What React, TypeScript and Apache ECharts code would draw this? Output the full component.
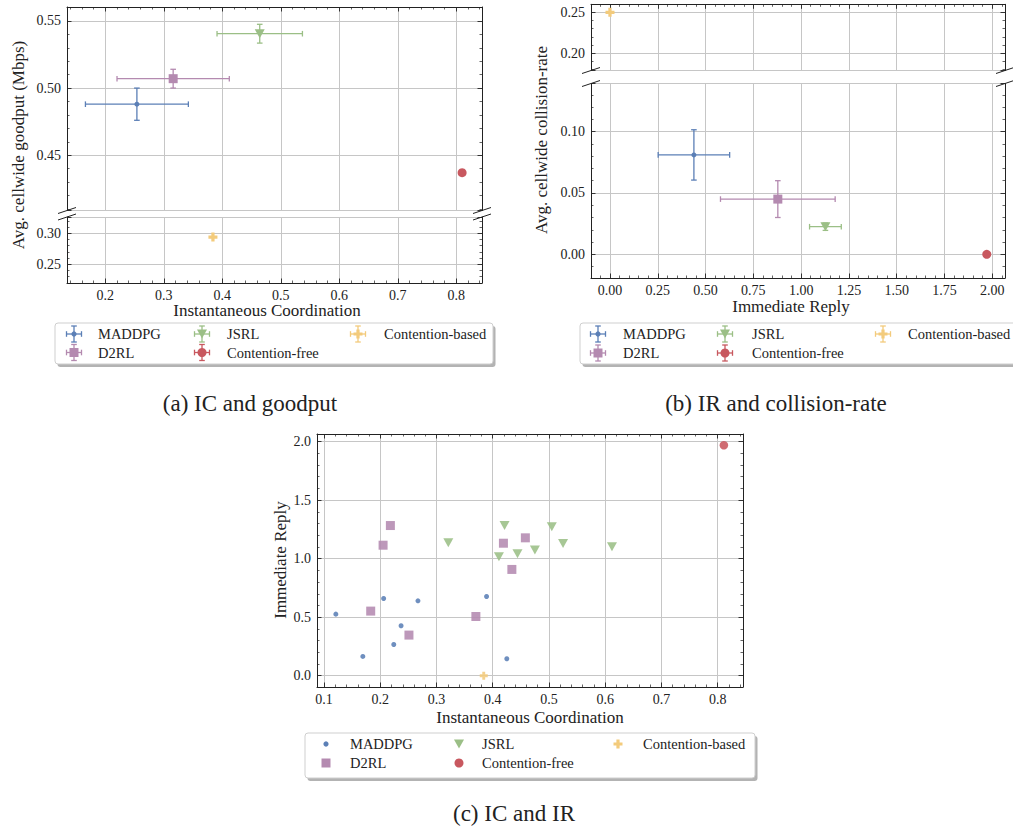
import React, { useEffect, useRef } from 'react';
import * as echarts from 'echarts';

// ---------- data ----------
const methods = ['MADDPG', 'D2RL', 'JSRL', 'Contention-free', 'Contention-based'];
const colors = ['#5b7fb6', '#b48ab0', '#9bbf86', '#c8585f', '#f3cb7c'];

// (a) Instantaneous Coordination vs goodput (mean ± std)
const aIC = [0.254, 0.316, 0.464, 0.810, 0.384];
const aICErr = [0.088, 0.096, 0.073, 0, 0];
const aGoodput = [0.488, 0.507, 0.5405, 0.437, 0.294];
const aGoodputErr = [0.012, 0.007, 0.007, 0, 0];

// (b) Immediate Reply vs collision-rate (mean ± std)
const bIR = [0.439, 0.878, 1.127, 1.971, 0.0];
const bIRErr = [0.187, 0.30, 0.083, 0, 0];
const bCollision = [0.081, 0.045, 0.0225, 0.0, 0.25];
const bCollisionErr = [0.0205, 0.015, 0.003, 0, 0];

// (c) per-run IC vs IR
const cMADDPG_IC = [0.121, 0.169, 0.206, 0.224, 0.237, 0.267, 0.389, 0.425];
const cMADDPG_IR = [0.526, 0.165, 0.660, 0.267, 0.427, 0.640, 0.677, 0.145];
const cD2RL_IC = [0.218, 0.205, 0.183, 0.251, 0.370, 0.419, 0.434, 0.458];
const cD2RL_IR = [1.283, 1.115, 0.552, 0.347, 0.506, 1.132, 0.908, 1.178];
const cJSRL_IC = [0.321, 0.421, 0.411, 0.444, 0.475, 0.505, 0.525, 0.612];
const cJSRL_IR = [1.135, 1.283, 1.016, 1.041, 1.073, 1.272, 1.129, 1.101];
const cFree_IC = [0.811];
const cFree_IR = [1.969];
const cBased_IC = [0.384];
const cBased_IR = [0.0];

const captions = ['(a) IC and goodput', '(b) IR and collision-rate', '(c) IC and IR'];
const xNames = ['Instantaneous Coordination', 'Immediate Reply', 'Instantaneous Coordination'];
const yNames = ['Avg. cellwide goodput (Mbps)', 'Avg. cellwide collision-rate', 'Immediate Reply'];

// ---------- style ----------
const FONT = '"Liberation Serif", "DejaVu Serif", serif';
const INK = '#222222';
const GRID = '#c6c6c6';
const PLUS = 'path://M3.2,0H6.8V3.2H10V6.8H6.8V10H3.2V6.8H0V3.2H3.2Z';

const symA = [
  { symbol: 'circle', size: 5, rotate: 0 },
  { symbol: 'rect', size: 9, rotate: 0 },
  { symbol: 'triangle', size: [10, 9], rotate: 180 },
  { symbol: 'circle', size: 9, rotate: 0 },
  { symbol: PLUS, size: 9, rotate: 0 },
];
const symC = [
  { symbol: 'circle', size: 5, rotate: 0 },
  { symbol: 'rect', size: 9, rotate: 0 },
  { symbol: 'triangle', size: [10, 9], rotate: 180 },
  { symbol: 'circle', size: 8.5, rotate: 0 },
  { symbol: PLUS, size: 8, rotate: 0 },
];

type GridSpec = {
  box: [number, number, number, number];
  x: [number, number, number, number];
  y: [number, number, number, number];
  top: boolean;
  bottom: boolean;
};

const grids: GridSpec[] = [
  { box: [67, 7, 415, 203.5], x: [0.1345, 0.844, 0.1, 1], y: [0.4088, 0.5604, 0.05, 2], top: true, bottom: false },
  { box: [67, 217, 415, 66], x: [0.1345, 0.844, 0.1, 1], y: [0.2198, 0.3263, 0.05, 2], top: false, bottom: true },
  { box: [591, 4.3, 414, 66.2], x: [-0.0993, 2.0664, 0.25, 2], y: [0.179, 0.2598, 0.05, 2], top: true, bottom: false },
  { box: [591, 83.5, 414, 194.5], x: [-0.0993, 2.0664, 0.25, 2], y: [-0.0193, 0.1392, 0.05, 2], top: false, bottom: true },
  { box: [317, 434, 426, 253], x: [0.0875, 0.845, 0.1, 1], y: [-0.0964, 2.065, 0.5, 1], top: true, bottom: true },
];

function onStep(v: number, step: number) {
  const r = v / step;
  return Math.abs(r - Math.round(r)) < 1e-6;
}

function axis(gi: number, pos: string, r: [number, number, number, number], line: boolean, labels: boolean, split: boolean, isX: boolean) {
  const [min, max, step, dec] = r;
  return {
    type: 'value',
    gridIndex: gi,
    position: pos,
    min,
    max,
    minInterval: step,
    maxInterval: step,
    splitNumber: Math.max(1, Math.round((max - min) / step)),
    axisLine: { show: line, onZero: false, lineStyle: { color: INK, width: 1 } },
    axisTick: { show: line, inside: true, length: 4.5, lineStyle: { color: INK, width: 0.9 } },
    minorTick: { show: line, splitNumber: 5, length: 2.5, lineStyle: { color: INK, width: 0.7 } },
    axisLabel: {
      show: labels,
      margin: isX ? 5 : 6,
      fontFamily: FONT,
      fontSize: 14,
      color: INK,
      formatter: (v: number) => (onStep(v, step) ? v.toFixed(dec) : ''),
    },
    splitLine: { show: split, lineStyle: { color: GRID, width: 1 } },
    minorSplitLine: { show: false },
  };
}

function errSeries(name: string, color: string, gi: number, data: number[][]) {
  return {
    type: 'custom',
    name,
    xAxisIndex: gi * 2,
    yAxisIndex: gi * 2,
    silent: true,
    z: 3,
    data,
    renderItem: (_p: any, api: any) => {
      const x = api.value(0), y = api.value(1), ex = api.value(2), ey = api.value(3);
      const style = { stroke: color, lineWidth: 1.3 };
      const cap = 2.8;
      const ch: any[] = [];
      const ln = (x1: number, y1: number, x2: number, y2: number) =>
        ch.push({ type: 'line', shape: { x1, y1, x2, y2 }, style });
      if (ex > 0) {
        const l = api.coord([x - ex, y]);
        const r = api.coord([x + ex, y]);
        ln(l[0], l[1], r[0], r[1]);
        ln(l[0], l[1] - cap, l[0], l[1] + cap);
        ln(r[0], r[1] - cap, r[0], r[1] + cap);
      }
      if (ey > 0) {
        const t = api.coord([x, y + ey]);
        const b = api.coord([x, y - ey]);
        ln(t[0], t[1], b[0], b[1]);
        ln(t[0] - cap, t[1], t[0] + cap, t[1]);
        ln(b[0] - cap, b[1], b[0] + cap, b[1]);
      }
      return { type: 'group', children: ch };
    },
  };
}

function scatterSeries(name: string, i: number, gi: number, data: number[][], sym: any, opacity = 1) {
  return {
    type: 'scatter',
    name,
    xAxisIndex: gi * 2,
    yAxisIndex: gi * 2,
    z: 4,
    symbol: sym.symbol,
    symbolSize: sym.size,
    symbolRotate: sym.rotate,
    itemStyle: { color: colors[i], opacity },
    data,
  };
}

function legendIcon(i: number, cx: number, cy: number, err: boolean, big: boolean): any[] {
  const c = colors[i];
  const out: any[] = [];
  const st = { stroke: c, lineWidth: 1.3 };
  if (err) {
    const hw = 7.5, hh = 8, cap = 2.8;
    out.push({ type: 'line', shape: { x1: cx - hw, y1: cy, x2: cx + hw, y2: cy }, style: st });
    out.push({ type: 'line', shape: { x1: cx - hw, y1: cy - cap, x2: cx - hw, y2: cy + cap }, style: st });
    out.push({ type: 'line', shape: { x1: cx + hw, y1: cy - cap, x2: cx + hw, y2: cy + cap }, style: st });
    out.push({ type: 'line', shape: { x1: cx, y1: cy - hh, x2: cx, y2: cy + hh }, style: st });
    out.push({ type: 'line', shape: { x1: cx - cap, y1: cy - hh, x2: cx + cap, y2: cy - hh }, style: st });
    out.push({ type: 'line', shape: { x1: cx - cap, y1: cy + hh, x2: cx + cap, y2: cy + hh }, style: st });
  }
  const f = { fill: c };
  const s = big ? 1 : 0.95;
  if (i === 0) out.push({ type: 'circle', shape: { cx, cy, r: 2.6 }, style: f });
  if (i === 1) out.push({ type: 'rect', shape: { x: cx - 4.5 * s, y: cy - 4.5 * s, width: 9 * s, height: 9 * s }, style: f });
  if (i === 2) out.push({ type: 'polygon', shape: { points: [[cx - 5, cy - 4.5], [cx + 5, cy - 4.5], [cx, cy + 4.5]] }, style: f });
  if (i === 3) out.push({ type: 'circle', shape: { cx, cy, r: 4.5 * s }, style: f });
  if (i === 4) {
    const a = 4.5 * s, b = 1.6 * s;
    out.push({
      type: 'polygon',
      shape: {
        points: [[cx - b, cy - a], [cx + b, cy - a], [cx + b, cy - b], [cx + a, cy - b], [cx + a, cy + b], [cx + b, cy + b],
          [cx + b, cy + a], [cx - b, cy + a], [cx - b, cy + b], [cx - a, cy + b], [cx - a, cy - b], [cx - b, cy - b]],
      },
      style: f,
    });
  }
  return out;
}

function legendBlock(box: [number, number, number, number], iconX: number[], textX: number[], rows: number[], err: boolean): any[] {
  const [x, y, w, h] = box;
  const els: any[] = [
    { type: 'rect', shape: { x: x + 2.5, y: y + 3, width: w, height: h, r: 3 }, style: { fill: '#9a9a9a', opacity: 0.75 }, z: 10 },
    { type: 'rect', shape: { x, y, width: w, height: h, r: 3 }, style: { fill: '#ffffff', stroke: '#cfcfcf', lineWidth: 1 }, z: 11 },
  ];
  // column-major order: col0: MADDPG, D2RL; col1: JSRL, Contention-free; col2: Contention-based
  methods.forEach((m, i) => {
    const col = Math.floor(i / 2);
    const row = i % 2;
    legendIcon(i, iconX[col], rows[row], err, true).forEach((e) => els.push({ ...e, z: 12 }));
    els.push({
      type: 'text', z: 12,
      style: { text: m, x: textX[col], y: rows[row], fill: INK, font: `14.5px ${FONT}`, align: 'left', verticalAlign: 'middle' },
    });
  });
  return els;
}

function breakMarks(x: number, yUp: number, yLo: number): any[] {
  const st = { stroke: INK, lineWidth: 1 };
  const m = (cy: number) => ({ type: 'line', z: 20, shape: { x1: x - 9, y1: cy + 3, x2: x + 9, y2: cy - 3 }, style: st });
  return [m(yUp), m(yLo)];
}

export default function App() {
  const ref = useRef<HTMLDivElement>(null);
  useEffect(() => {
    if (!ref.current) return;
    const chart = echarts.init(ref.current, undefined, { renderer: 'svg' });

    const xAxis: any[] = [];
    const yAxis: any[] = [];
    grids.forEach((g, gi) => {
      xAxis.push(axis(gi, 'bottom', g.x, g.bottom, g.bottom, true, true));
      xAxis.push(axis(gi, 'top', g.x, g.top, false, false, true));
      yAxis.push(axis(gi, 'left', g.y, true, true, true, false));
      yAxis.push(axis(gi, 'right', g.y, true, false, false, false));
    });

    const series: any[] = [];
    const inRange = (gi: number, v: number) => v >= grids[gi].y[0] && v <= grids[gi].y[1];
    // (a)
    methods.forEach((m, i) => {
      const gi = inRange(0, aGoodput[i]) ? 0 : 1;
      if (aICErr[i] > 0 || aGoodputErr[i] > 0)
        series.push(errSeries(m, colors[i], gi, [[aIC[i], aGoodput[i], aICErr[i], aGoodputErr[i]]]));
      series.push(scatterSeries(m, i, gi, [[aIC[i], aGoodput[i]]], symA[i]));
    });
    // (b)
    methods.forEach((m, i) => {
      const gi = inRange(2, bCollision[i]) ? 2 : 3;
      if (bIRErr[i] > 0 || bCollisionErr[i] > 0)
        series.push(errSeries(m, colors[i], gi, [[bIR[i], bCollision[i], bIRErr[i], bCollisionErr[i]]]));
      series.push(scatterSeries(m, i, gi, [[bIR[i], bCollision[i]]], symA[i]));
    });
    // (c)
    const cX = [cMADDPG_IC, cD2RL_IC, cJSRL_IC, cFree_IC, cBased_IC];
    const cY = [cMADDPG_IR, cD2RL_IR, cJSRL_IR, cFree_IR, cBased_IR];
    methods.forEach((m, i) => {
      series.push(scatterSeries(m, i, 4, cX[i].map((v, k) => [v, cY[i][k]]), symC[i], 0.88));
    });

    const texts: any[] = [];
    const txt = (t: string, x: number, y: number, size: number, rot = 0) =>
      texts.push({
        type: 'text', x, y, rotation: rot, z: 5,
        style: { text: t, x: 0, y: 0, fill: INK, font: `${size}px ${FONT}`, align: 'center', verticalAlign: 'middle' },
      });
    txt(xNames[0], 267, 310, 17);
    txt(xNames[1], 791, 306, 17);
    txt(xNames[2], 530, 717, 17);
    txt(yNames[0], 18, 145, 17, Math.PI / 2);
    txt(yNames[1], 541, 140, 17, Math.PI / 2);
    txt(yNames[2], 280, 560, 17, Math.PI / 2);
    txt(captions[0], 250, 403, 23);
    txt(captions[1], 776, 403, 23);
    txt(captions[2], 514, 813, 23);

    const graphic: any[] = [
      ...texts,
      ...breakMarks(67, 210.5, 217),
      ...breakMarks(482, 210.5, 217),
      ...breakMarks(591, 70.5, 83.5),
      ...breakMarks(1005, 70.5, 83.5),
      ...legendBlock([55, 323, 438, 41], [74, 202, 358], [98, 227, 384], [334, 352.5], true),
      ...legendBlock([580, 323, 440, 41], [598, 725, 883], [623, 752, 908], [334, 353], true),
      ...legendBlock([305, 733, 450, 45], [326, 459, 618], [350, 482, 643], [744, 763], false),
    ];

    chart.setOption({
      animation: false,
      backgroundColor: '#ffffff',
      grid: grids.map((g) => ({ left: g.box[0], top: g.box[1], width: g.box[2], height: g.box[3], containLabel: false })),
      xAxis,
      yAxis,
      series,
      graphic,
    });
    return () => chart.dispose();
  }, []);
  return <div ref={ref} style={{ position: 'absolute', left: 0, top: 0, width: 1013, height: 832, background: '#fff' }} />;
}
